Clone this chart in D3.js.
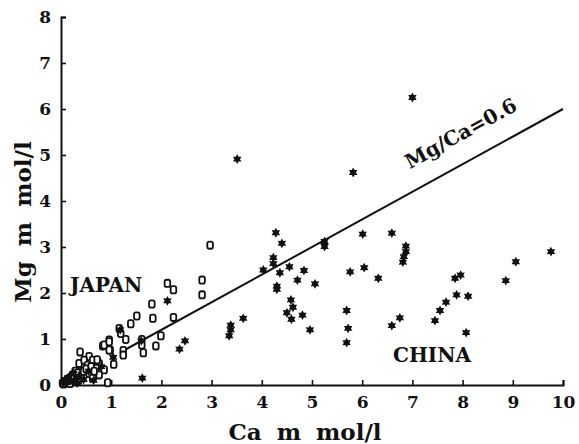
<!DOCTYPE html>
<html><head><meta charset="utf-8">
<script src="https://cdn.jsdelivr.net/npm/d3@7"></script>
<style>body{margin:0;background:#fff}svg{display:block}text{font-family:"DejaVu Serif","Liberation Serif",serif;font-weight:bold;fill:#111}</style>
</head><body><svg id="c" width="579" height="444"></svg>
<script>
const xTicks = [0,1,2,3,4,5,6,7,8,9,10];
const yTicks = [0,1,2,3,4,5,6,7,8];
const japanCa = [2.97,2.12,2.24,2.81,2.81,1.81,1.83,2.24,1.51,1.39,1.16,1.19,1.29,1.99,1.89,1.64,0.96,0.83,0.98,1.24,1.24,1.61,1.61,
  0.38,0.86,0.96,0.96,0.56,0.63,0.76,0.70,0.86,0.56,0.43,0.36,0.46,0.30,0.23,0.17,0.10,0.03,0.63,0.76,0.93,0.53,
  0.05,0.08,0.12,0.15,0.20,0.25,0.28,0.33,0.40,0.45,0.50,0.18,0.22,0.35,0.60,0.66,0.72,1.05];
const japanMg = [3.04,2.21,2.07,2.28,1.96,1.76,1.45,1.47,1.50,1.33,1.23,1.12,0.99,1.07,0.85,0.70,0.98,0.85,0.76,0.75,0.65,0.99,0.87,
  0.72,0.87,0.94,0.76,0.62,0.54,0.47,0.36,0.33,0.25,0.40,0.47,0.54,0.29,0.22,0.15,0.07,0.04,0.15,0.22,0.05,0.43,
  0.02,0.05,0.08,0.12,0.10,0.18,0.30,0.26,0.20,0.30,0.35,0.03,0.14,0.10,0.40,0.30,0.55,0.45];
const chinaCa = [1.62,2.12,2.47,2.36,1.60,1.18,1.04,
  4.28,4.40,4.23,4.23,4.03,4.36,4.55,4.84,4.71,5.06,4.30,4.30,5.25,5.25,4.58,4.62,4.50,4.59,4.81,4.96,
  3.63,3.38,3.38,3.35,5.76,5.69,5.72,5.69,
  6.01,6.59,6.87,6.87,6.83,6.81,6.04,6.32,6.59,6.75,7.45,7.55,7.67,7.88,7.85,7.96,8.11,8.07,
  8.86,9.06,9.76,3.51,5.82,7.00,0.55,0.80,
  0.05,0.12,0.20,0.28,0.36,0.15,0.25,0.45,0.08,0.32,0.65];
const chinaMg = [0.15,1.83,0.96,0.78,0.96,1.20,0.60,
  3.31,3.08,2.77,2.64,2.50,2.44,2.57,2.49,2.28,2.20,2.15,2.08,3.12,3.01,1.85,1.69,1.57,1.43,1.52,1.20,
  1.45,1.30,1.20,1.07,2.46,1.62,1.23,0.92,
  3.28,3.30,3.02,2.90,2.79,2.67,2.55,2.32,1.29,1.46,1.40,1.62,1.80,1.96,2.32,2.39,1.93,1.14,
  2.27,2.68,2.90,4.91,4.62,6.25,0.30,0.40,
  0.06,0.05,0.10,0.08,0.18,0.16,0.25,0.12,0.12,0.04,0.10];
const ratio = 0.6, lineCa = [1.25, 10];

const svg = d3.select("#c");
const x = d3.scaleLinear().domain([0,10]).range([61,563]);
const y = d3.scaleLinear().domain([0,8]).range([385,17]);

const xa = svg.append("g").attr("transform","translate(0,385)")
  .call(d3.axisBottom(x).tickValues(xTicks).tickSize(-5).tickPadding(11).tickFormat(d3.format("d")));
const ya = svg.append("g").attr("transform","translate(61,0)")
  .call(d3.axisLeft(y).tickValues(yTicks).tickSize(-5).tickPadding(10).tickFormat(d3.format("d")));
[xa,ya].forEach(a=>{
  a.select(".domain").attr("stroke","#111").attr("stroke-width",2);
  a.selectAll(".tick line").attr("stroke","#111").attr("stroke-width",1.6);
  a.selectAll("text").style("font-size","17px").attr("fill","#111");
});

svg.append("text").attr("x",305).attr("y",440).attr("text-anchor","middle").style("font-size","23px").style("word-spacing","7px").text("Ca m mol/l");
svg.append("text").attr("transform","translate(31,222) rotate(-90)").attr("text-anchor","middle").style("font-size","23px").style("word-spacing","7px").text("Mg m mol/l");

svg.append("line").attr("x1",x(lineCa[0])).attr("y1",y(lineCa[0]*ratio)).attr("x2",x(lineCa[1])).attr("y2",y(lineCa[1]*ratio))
  .attr("stroke","#111").attr("stroke-width",2);
const ang = Math.atan2(y(6)-y(0), x(10)-x(0))*180/Math.PI;
svg.append("text").attr("transform",`translate(${x(7.15)},${y(7.15*ratio)}) rotate(${ang})`).attr("dy",-21).style("font-size","20px").text("Mg/Ca=0.6");

svg.append("text").attr("x",70).attr("y",292).style("font-size","20px").text("JAPAN");
svg.append("text").attr("x",393).attr("y",362).style("font-size","20px").text("CHINA");

// japan squares
svg.append("g").selectAll("rect").data(d3.range(japanCa.length)).join("rect")
  .attr("x",i=>x(japanCa[i])-2.8).attr("y",i=>y(japanMg[i])-3.6).attr("width",5.6).attr("height",7.2)
  .attr("rx",2).attr("fill","#fff").attr("stroke","#111").attr("stroke-width",1.8);

// china stars (hexagram)
const star = (()=>{const p=[];for(let k=0;k<12;k++){const r=k%2?2.8:4.9,a=Math.PI/6*k-Math.PI/2;p.push([r*Math.cos(a),r*Math.sin(a)]);}return "M"+p.map(d=>d.join(",")).join("L")+"Z";})();
svg.append("g").selectAll("path").data(d3.range(chinaCa.length)).join("path")
  .attr("d",star).attr("transform",i=>`translate(${x(chinaCa[i])},${y(chinaMg[i])})`).attr("fill","#111");
</script></body></html>
